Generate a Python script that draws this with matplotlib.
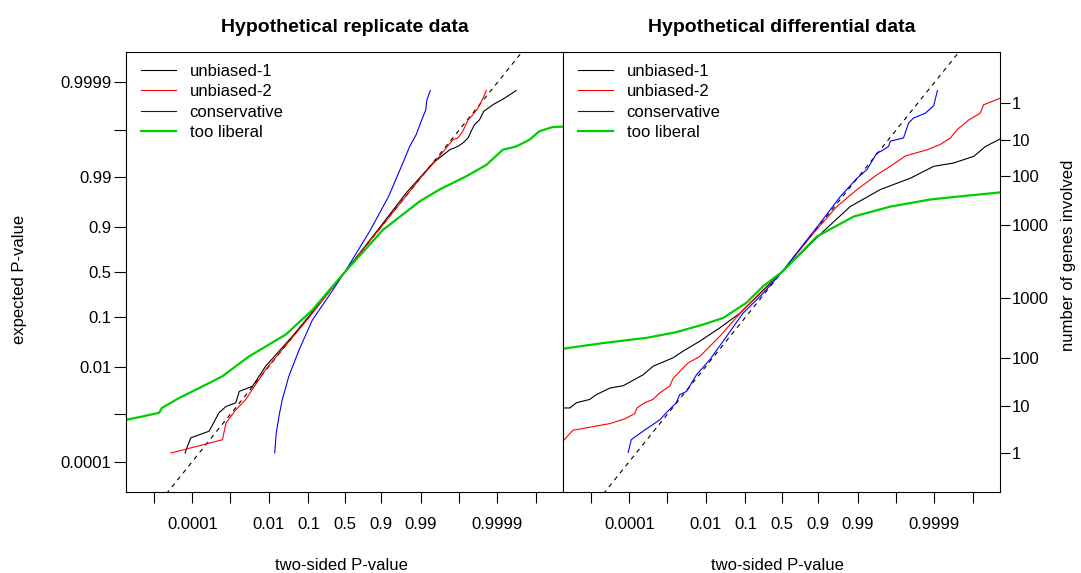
import numpy as np
import matplotlib
matplotlib.use("Agg")
import matplotlib.pyplot as plt

plt.rcParams['font.family'] = ['Liberation Sans', 'DejaVu Sans']

# values, in log10-odds units of the P-value
rep_black_x = [-4.19, -4.13, -4.04, -3.56, -3.30, -3.12, -2.86, -2.77, -2.42, -2.08, -1.38, -0.70, 0, 0.80, 1.61, 2.31, 2.75, 2.96, 3.09, 3.23, 3.31, 3.40, 3.53, 3.64, 3.88, 4.19, 4.49]
rep_black_y = [-3.82, -3.68, -3.50, -3.36, -2.97, -2.84, -2.76, -2.52, -2.41, -1.99, -1.36, -0.70, 0, 0.82, 1.67, 2.30, 2.58, 2.65, 2.72, 2.83, 2.97, 3.11, 3.21, 3.39, 3.53, 3.67, 3.83]
rep_red_x = [-4.56, -3.21, -3.12, -2.86, -2.60, -2.08, -1.00, 0, 1.00, 2.00, 2.48, 2.66, 2.83, 2.96, 3.09, 3.23, 3.36, 3.49, 3.60, 3.71]
rep_red_y = [-3.82, -3.54, -3.19, -2.91, -2.69, -2.06, -1.02, 0, 1.00, 2.00, 2.44, 2.62, 2.79, 2.83, 2.97, 3.21, 3.32, 3.46, 3.63, 3.83]
rep_blue_x = [-1.84, -1.80, -1.73, -1.64, -1.47, -1.20, -0.85, -0.50, 0, 0.65, 1.15, 1.52, 1.70, 1.87, 2.00, 2.12, 2.15, 2.24]
rep_blue_y = [-3.82, -3.40, -3.05, -2.69, -2.20, -1.64, -1.01, -0.60, 0, 0.86, 1.60, 2.30, 2.65, 2.90, 3.18, 3.42, 3.63, 3.83]
rep_green_x = [-5.74, -5.31, -4.87, -4.80, -4.35, -3.82, -3.21, -2.51, -1.55, -0.85, 0, 1.00, 1.96, 2.48, 3.18, 3.71, 4.14, 4.49, 4.84, 5.10, 5.45, 5.76]
rep_green_y = [-3.12, -3.05, -2.97, -2.87, -2.66, -2.45, -2.20, -1.78, -1.32, -0.80, 0, 0.89, 1.49, 1.74, 2.02, 2.26, 2.58, 2.65, 2.79, 2.97, 3.06, 3.07]

diff_black_x = [-5.74, -5.56, -5.39, -5.04, -4.87, -4.51, -4.16, -3.64, -3.38, -2.85, -2.59, -2.15, -1.63, -1.10, -0.49, 0, 1.09, 1.79, 2.58, 3.37, 3.98, 4.50, 5.03, 5.34, 5.73]
diff_black_y = [-2.87, -2.87, -2.76, -2.69, -2.59, -2.45, -2.40, -2.17, -1.99, -1.81, -1.67, -1.46, -1.18, -0.87, -0.38, 0, 0.86, 1.38, 1.74, 1.98, 2.23, 2.30, 2.44, 2.65, 2.81]
diff_red_x = [-5.74, -5.48, -4.51, -4.12, -3.86, -3.80, -3.60, -3.38, -3.20, -2.94, -2.85, -2.46, -2.15, -1.63, -1.02, -0.49, 0, 0.83, 1.44, 1.97, 2.49, 2.84, 3.24, 3.81, 4.15, 4.42, 4.59, 4.90, 5.20, 5.29, 5.73]
diff_red_y = [-3.57, -3.34, -3.20, -3.10, -2.99, -2.87, -2.76, -2.69, -2.55, -2.41, -2.24, -1.92, -1.78, -1.36, -0.80, -0.40, 0, 0.82, 1.38, 1.74, 2.05, 2.23, 2.45, 2.58, 2.69, 2.83, 3.00, 3.21, 3.35, 3.53, 3.67]
diff_blue_x = [-4.03, -3.95, -3.64, -3.20, -3.03, -2.77, -2.68, -2.50, -2.24, -1.89, -1.45, -1.02, -0.49, 0, 1.00, 1.53, 1.97, 2.23, 2.49, 2.58, 2.80, 2.84, 3.19, 3.32, 3.45, 3.76, 3.98, 4.08]
diff_blue_y = [-3.81, -3.54, -3.36, -3.12, -2.97, -2.76, -2.59, -2.52, -2.17, -1.85, -1.36, -0.87, -0.45, 0, 1.03, 1.59, 1.98, 2.16, 2.51, 2.54, 2.65, 2.76, 2.83, 3.14, 3.25, 3.35, 3.51, 3.83]
diff_green_x = [-5.74, -4.69, -3.55, -2.77, -2.07, -1.54, -0.93, -0.49, 0, 0.92, 1.88, 2.84, 3.89, 4.59, 5.73]
diff_green_y = [-1.62, -1.50, -1.39, -1.27, -1.11, -0.97, -0.65, -0.30, 0, 0.75, 1.17, 1.38, 1.53, 1.59, 1.68]

labels = ['unbiased-1', 'unbiased-2', 'conservative', 'too liberal']
colors = ['black', '#FF0000', '#0000FF', '#00CD00']

p_ticks = [1e-5, 1e-4, 1e-3, 0.01, 0.1, 0.5, 0.9, 0.99, 0.999, 0.9999, 0.99999]
p_ticklabels = ['', '0.0001', '', '0.01', '0.1', '0.5', '0.9', '0.99', '', '0.9999', '']
gene_pos = [3.57, 2.79, 2.03, 1.00, -0.55, -1.81, -2.83, -3.81]
gene_labels = ['1', '10', '100', '1000', '1000', '100', '10', '1']


def to_p(u):
    return 1.0 / (1.0 + 10.0 ** (-np.asarray(u, dtype=float)))


W, H = 1081, 573
fig = plt.figure(figsize=(W / 100, H / 100), dpi=100)
ax1 = fig.add_axes([126 / W, 1 - 492.3 / H, 437 / W, 440.6 / H])
ax2 = fig.add_axes([563 / W, 1 - 492.3 / H, 437 / W, 440.6 / H])

panels = [
    (ax1, [(rep_black_x, rep_black_y), (rep_red_x, rep_red_y), (rep_blue_x, rep_blue_y), (rep_green_x, rep_green_y)],
     'Hypothetical replicate data'),
    (ax2, [(diff_black_x, diff_black_y), (diff_red_x, diff_red_y), (diff_blue_x, diff_blue_y), (diff_green_x, diff_green_y)],
     'Hypothetical differential data'),
]

for ax, series, title in panels:
    ax.set_xscale('logit')
    ax.set_yscale('logit')
    ident = to_p([-6, 6])
    ax.plot(ident, ident, color='black', lw=0.8, ls=(0, (4, 4)))
    for (xs, ys), lab, c in zip(series, labels, colors):
        lw = 1.6 if c == '#00CD00' else 0.8
        ax.plot(to_p(xs), to_p(ys), color=c, lw=lw, label=lab)
    ax.set_xlim(to_p(-5.74), to_p(5.72))
    ax.set_ylim(to_p(-4.65), to_p(4.65))
    ax.set_xticks(p_ticks)
    ax.set_xticklabels(p_ticklabels)
    ax.xaxis.set_minor_locator(matplotlib.ticker.NullLocator())
    ax.yaxis.set_minor_locator(matplotlib.ticker.NullLocator())
    ax.tick_params(axis='x', direction='out', length=8, width=0.8, pad=10, labelsize=12)
    ax.set_title(title, fontsize=14, fontweight='bold', pad=14)
    for s in ax.spines.values():
        s.set_linewidth(0.8)
    ax.legend(loc='upper left', bbox_to_anchor=(0.02, 0.988), frameon=False, fontsize=12,
              handlelength=2.05, handletextpad=0.85, labelspacing=0.33, borderaxespad=0)

ax1.set_yticks(p_ticks[1:-1])
ax1.set_yticklabels(p_ticklabels[1:-1])
ax1.tick_params(axis='y', direction='out', length=8.5, width=0.8, pad=2, labelsize=12)

ax2.set_yticks(to_p(gene_pos))
ax2.set_yticklabels(gene_labels)
ax2.tick_params(axis='y', direction='out', length=7, width=0.8, pad=1.5, labelsize=12,
                left=False, labelleft=False, right=True, labelright=True)

fig.text(341 / W, 1 - 566 / H, 'two-sided P-value', ha='center', va='center', fontsize=12)
fig.text(777 / W, 1 - 566 / H, 'two-sided P-value', ha='center', va='center', fontsize=12)
fig.text(20 / W, 1 - 279 / H, 'expected P-value', ha='center', va='center', rotation=90, fontsize=12)
fig.text(1068 / W, 1 - 255 / H, 'number of genes involved', ha='center', va='center', rotation=90, fontsize=12)

fig.savefig('out.png', dpi=100)
